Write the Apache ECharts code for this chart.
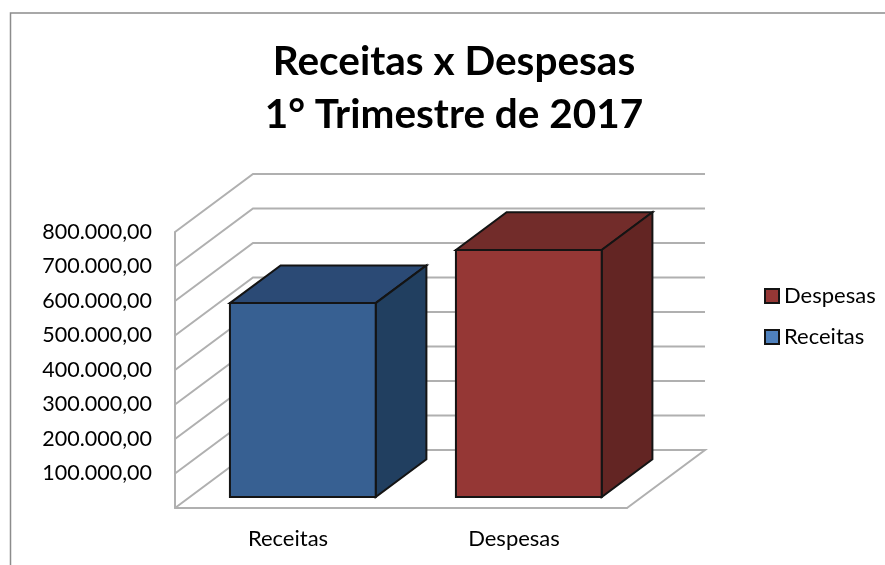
<!DOCTYPE html>
<html>
<head>
<meta charset="utf-8">
<title>Receitas x Despesas</title>
<script src="https://cdn.jsdelivr.net/npm/echarts@6/dist/echarts.min.js"></script>
<style>
  html, body { margin: 0; padding: 0; background: #fff; }
  #chart { width: 885px; height: 565px; }
</style>
</head>
<body>
<div id="chart"></div>
<script>
const categories = ['Receitas', 'Despesas']
const receitas = [562000]
const despesas = [716000]
const yTicks = [0, 100000, 200000, 300000, 400000, 500000, 600000, 700000, 800000]
const yTickLabels = ['', '100.000,00', '200.000,00', '300.000,00', '400.000,00', '500.000,00', '600.000,00', '700.000,00', '800.000,00']
const legendOrder = ['Despesas', 'Receitas']

// pseudo 3D depth of the chart box, in pixels
const DEPTH_X = 78
const DEPTH_Y = -58
const BAR_WIDTH = 0.645
const BAR_DEPTH_START = 0.19
const BAR_DEPTH_END = 0.84
const GRID_COLOR = '#b0b0b0'

function shifted(p, t) {
  return [p[0] + DEPTH_X * t, p[1] + DEPTH_Y * t]
}

function poly(points, fill) {
  return {
    type: 'polygon',
    shape: { points },
    style: { fill, stroke: '#141414', lineWidth: 2, lineJoin: 'miter' },
  }
}

function barRenderer(front, top, side) {
  return (params, api) => {
    const base = api.coord([api.value(0), 0])
    const peak = api.coord([api.value(0), api.value(1)])
    const half = (api.size([1, 0])[0] * BAR_WIDTH) / 2
    const fl = shifted([base[0] - half, base[1]], BAR_DEPTH_START)
    const fr = shifted([base[0] + half, base[1]], BAR_DEPTH_START)
    const tl = shifted([peak[0] - half, peak[1]], BAR_DEPTH_START)
    const tr = shifted([peak[0] + half, peak[1]], BAR_DEPTH_START)
    const d = BAR_DEPTH_END - BAR_DEPTH_START
    const back = (p) => [p[0] + DEPTH_X * d, p[1] + DEPTH_Y * d]
    return {
      type: 'group',
      children: [
        poly([tl, tr, back(tr), back(tl)], top),
        poly([fr, tr, back(tr), back(fr)], side),
        poly([fl, fr, tr, tl], front),
      ],
    }
  }
}

function wallRenderer(params, api) {
  const start = api.coord([0, api.value(0)])
  const end = api.coord([categories.length - 1, api.value(0)])
  const half = api.size([1, 0])[0] / 2
  const left = [start[0] - half, start[1]]
  const right = [end[0] + half, end[1]]
  const points = [left, shifted(left, 1), shifted(right, 1)]
  if (api.value(0) === 0) points.push(right)
  return {
    type: 'polyline',
    shape: { points },
    style: { fill: 'none', stroke: GRID_COLOR, lineWidth: 2 },
  }
}

const chart = echarts.init(document.getElementById('chart'))

chart.setOption({
  animation: false,
  backgroundColor: '#fff',
  title: {
    text: 'Receitas x Despesas\n1° Trimestre de 2017',
    left: 449,
    top: 30,
    textAlign: 'center',
    textStyle: {
      fontFamily: 'Lato',
      fontWeight: 'bold',
      fontSize: 40.5,
      lineHeight: 53,
      color: '#000',
    },
  },
  legend: {
    data: legendOrder,
    orient: 'vertical',
    left: 759,
    top: 280,
    itemWidth: 14,
    itemHeight: 14,
    itemGap: 19,
    icon: 'rect',
    selectedMode: false,
    textStyle: { fontFamily: 'Lato', fontSize: 22, color: '#000', padding: [0, 0, 0, 0] },
  },
  grid: { left: 175, right: 258, top: 232, bottom: 57 },
  xAxis: {
    type: 'category',
    data: categories,
    axisTick: { show: false },
    axisLine: { lineStyle: { color: GRID_COLOR, width: 2 } },
    axisLabel: { fontFamily: 'Lato', fontSize: 22, color: '#000', margin: 20 },
  },
  yAxis: {
    type: 'value',
    min: 0,
    max: 800000,
    interval: 100000,
    splitLine: { show: false },
    axisTick: { show: false },
    axisLine: { show: true, lineStyle: { color: GRID_COLOR, width: 2 } },
    axisLabel: {
      fontFamily: 'Lato',
      fontSize: 21.5,
      color: '#000',
      margin: 23,
      formatter: (value, index) => yTickLabels[index],
    },
  },
  series: [
    {
      type: 'custom',
      name: 'walls',
      clip: false,
      silent: true,
      z: 1,
      data: yTicks.map((t) => [t]),
      encode: { y: 0 },
      renderItem: wallRenderer,
    },
    {
      type: 'custom',
      name: 'Receitas',
      clip: false,
      z: 3,
      itemStyle: { color: '#4f81bd', borderColor: '#141414', borderWidth: 2 },
      data: receitas.map((v) => [0, v]),
      encode: { x: 0, y: 1 },
      renderItem: barRenderer('#376092', '#2b4a75', '#213f60'),
    },
    {
      type: 'custom',
      name: 'Despesas',
      clip: false,
      z: 3,
      itemStyle: { color: '#953735', borderColor: '#141414', borderWidth: 2 },
      data: despesas.map((v) => [1, v]),
      encode: { x: 0, y: 1 },
      renderItem: barRenderer('#953735', '#722c2a', '#632523'),
    },
  ],
  graphic: [
    {
      type: 'polyline',
      silent: true,
      shape: { points: [[10.5, 565], [10.5, 13], [885, 13]] },
      style: { fill: 'none', stroke: '#8c8c8c', lineWidth: 1.5 },
    },
  ],
})

window.addEventListener('resize', () => chart.resize())
</script>
</body>
</html>
